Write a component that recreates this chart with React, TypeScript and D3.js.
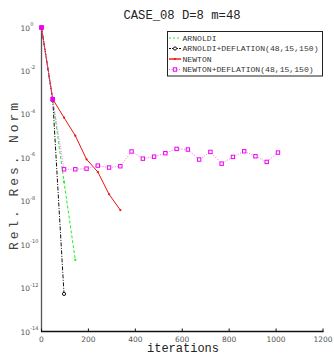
import React from "react";
import * as d3 from "d3";

const W = 334;
const H = 356;

const xTicks = [0, 200, 400, 600, 800, 1000, 1200];
const yTickExps = [0, -2, -4, -6, -8, -10, -12, -14];

const arnoldiX = [0, 48, 96, 144];
const arnoldiLog = [0, -3.35, -7.1, -10.7];

const arnDefX = [0, 48, 96];
const arnDefLog = [0, -3.35, -12.27];

const newtonX = [0, 48, 96, 144, 192, 240, 288, 336];
const newtonLog = [0, -3.3, -4.15, -4.98, -6.07, -6.65, -7.68, -8.41];

const newDefX = [0, 48, 96, 144, 192, 240, 288, 336, 384, 432, 480, 528, 576, 624, 672, 720, 768, 816, 864, 912, 960, 1008];
const newDefLog = [0, -3.3, -6.53, -6.53, -6.5, -6.36, -6.45, -6.39, -5.71, -6.04, -5.95, -5.79, -5.59, -5.62, -6.08, -5.73, -6.27, -5.96, -5.7, -5.93, -6.19, -5.76];

const legendLabels = ["ARNOLDI", "ARNOLDI+DEFLATION(48,15,150)", "NEWTON", "NEWTON+DEFLATION(48,15,150)"];

const mono = "'Liberation Mono', 'DejaVu Sans Mono', monospace";
const sans = "'DejaVu Sans', sans-serif";

export default function App() {
  const x = d3.scaleLinear().domain([0, 1200]).range([41.5, 323]);
  const y = d3.scaleLog().domain([1e-14, 1]).range([331.5, 27.5]);

  const mk = (xs: number[], ls: number[]) => xs.map((v, i) => [x(v), y(Math.pow(10, ls[i]))] as [number, number]);
  const line = d3.line<[number, number]>().x(d => d[0]).y(d => d[1]);

  const arn = mk(arnoldiX, arnoldiLog);
  const arnDef = mk(arnDefX, arnDefLog);
  const newt = mk(newtonX, newtonLog);
  const newDef = mk(newDefX, newDefLog);

  const legendY = [38, 48.5, 59, 69.5];

  return (
    <div style={{ position: "absolute", left: 0, top: 0 }}>
      <svg width={W} height={H} style={{ display: "block", background: "#fff" }}>
        <text x={182} y={19} textAnchor="middle" fontFamily={mono} fontSize={12.2} fill="#222">CASE_08 D=8 m=48</text>

        <line x1={41.5} y1={27} x2={41.5} y2={332} stroke="#555" strokeWidth={1.3} />
        <line x1={41} y1={331.5} x2={323.5} y2={331.5} stroke="#111" strokeWidth={1.6} />
        {xTicks.map(t => (
          <g key={t}>
            <line x1={x(t)} x2={x(t)} y1={331.5} y2={328.5} stroke="#111" strokeWidth={1} />
            <text x={x(t)} y={341.5} textAnchor="middle" fontFamily={sans} fontSize={7.5} fill="#555">{t}</text>
          </g>
        ))}
        {yTickExps.map(e => (
          <g key={e}>
            <text x={30} y={y(Math.pow(10, e)) + 3} textAnchor="end" fontFamily={sans} fontSize={7.5} fill="#555">10</text>
            <text x={30.3} y={y(Math.pow(10, e)) - 1.5} textAnchor="start" fontFamily={sans} fontSize={5} fill="#555">{e}</text>
          </g>
        ))}

        <text x={183} y={352} textAnchor="middle" fontFamily={mono} fontSize={12} fill="#222">iterations</text>
        <text transform="translate(18,176.5) rotate(-90)" textAnchor="middle" fontFamily={mono} fontSize={13} fill="#444" textLength={147} lengthAdjust="spacing">Rel. Res. Norm</text>

        <path d={line(arn) || ""} fill="none" stroke="#22ee22" strokeWidth={1} strokeDasharray="3,2" />
        {arn.map((p, i) => <rect key={i} x={p[0] - 1} y={p[1] - 1} width={2} height={2} fill="#22ee22" />)}

        <path d={line(arnDef) || ""} fill="none" stroke="#111" strokeWidth={1} strokeDasharray="4,1.5,1,1.5" />
        {arnDef.map((p, i) => <circle key={i} cx={p[0]} cy={p[1]} r={1.6} fill="#fff" stroke="#111" strokeWidth={1} />)}

        <path d={line(newt) || ""} fill="none" stroke="#ee1111" strokeWidth={1} />
        {newt.map((p, i) => <circle key={i} cx={p[0]} cy={p[1]} r={1.1} fill="#ee1111" />)}

        <path d={line(newDef) || ""} fill="none" stroke="#ff66ff" strokeWidth={1} strokeDasharray="1,1.5" />
        {newDef.map((p, i) => <rect key={i} x={p[0] - 1.7} y={p[1] - 1.7} width={3.4} height={3.4} fill="#fff" stroke="#ee00ee" strokeWidth={1} />)}
        {newDef.slice(0, 2).map((p, i) => <rect key={"f" + i} x={p[0] - 2.2} y={p[1] - 2.2} width={4.4} height={4.4} fill="#ee00ee" />)}

        <rect x={167.5} y={31.5} width={155} height={44.5} fill="#fff" stroke="#222" strokeWidth={1} />
        {legendLabels.map((l, i) => (
          <text key={l} x={182.5} y={legendY[i] + 2.8} fontFamily={mono} fontSize={8.1} fill="#333">{l}</text>
        ))}
        <line x1={169} x2={181} y1={legendY[0]} y2={legendY[0]} stroke="#22ee22" strokeWidth={1.2} strokeDasharray="2,2" />
        <line x1={169} x2={181} y1={legendY[1]} y2={legendY[1]} stroke="#111" strokeWidth={1} strokeDasharray="2,1,1,1" />
        <circle cx={175} cy={legendY[1]} r={1.6} fill="#fff" stroke="#111" strokeWidth={1} />
        <line x1={169} x2={181} y1={legendY[2]} y2={legendY[2]} stroke="#ee1111" strokeWidth={1.4} />
        <circle cx={175} cy={legendY[2]} r={1.1} fill="#ee1111" />
        <line x1={169} x2={181} y1={legendY[3]} y2={legendY[3]} stroke="#ff66ff" strokeWidth={1} strokeDasharray="1,1.5" />
        <rect x={173.3} y={legendY[3] - 1.7} width={3.4} height={3.4} fill="#fff" stroke="#ee00ee" strokeWidth={1} />
      </svg>
    </div>
  );
}
